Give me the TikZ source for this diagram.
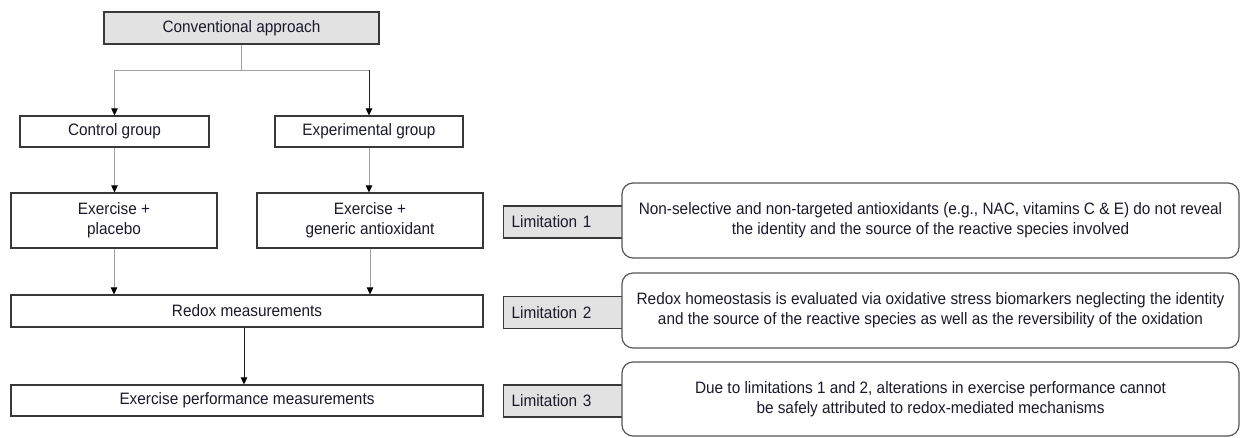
\documentclass[tikz,border=0pt]{standalone}
\usepackage{fontspec}
\setmainfont{Liberation Sans}[FakeStretch=0.93]
\usetikzlibrary{arrows.meta,calc}
\definecolor{boxline}{HTML}{383838}
\definecolor{graybox}{HTML}{E2E2E2}
\definecolor{lightln}{HTML}{A0A0A0}
\definecolor{darkln}{HTML}{202020}
\definecolor{txt}{HTML}{1A1A2A}
\begin{document}
\begin{tikzpicture}[x=1pt,y=-1pt,
  every node/.style={font=\fontsize{16.5}{20}\selectfont, text=txt},
  plainbox/.style={draw=boxline, line width=1.2pt, fill=white, align=center, inner sep=0pt},
  graybx/.style={plainbox, fill=graybox},
  limbox/.style={draw=boxline, line width=1.2pt, fill=graybox, anchor=west, minimum width=119pt, minimum height=32pt, inner sep=0pt, text width=103pt, align=left},
  roundbx/.style={draw=boxline!85, line width=1.2pt, fill=white, rounded corners=11pt, minimum width=617pt, minimum height=75pt, align=center, inner sep=0pt},
  lightline/.style={draw=lightln, line width=1pt},
  lightarrow/.style={lightline, -{Triangle[length=7pt,width=6.5pt,color=black]}},
  darkarrow/.style={draw=darkln, line width=1pt, -{Triangle[length=7pt,width=6.5pt,color=black]}}
]
\useasboundingbox (0,0) rectangle (1240,437);

% left column
\node[graybx, minimum width=275pt, minimum height=32pt] (conv) at (241.5,28) {Conventional approach};
\node[plainbox, minimum width=189pt, minimum height=31pt] (ctrl) at (114.5,131.5) {Control group};
\node[plainbox, minimum width=188pt, minimum height=31pt] (expg) at (369,131.5) {Experimental group};
\node[plainbox, minimum width=206pt, minimum height=55pt] (plac) at (114,220.5) {Exercise +\\placebo};
\node[plainbox, minimum width=226pt, minimum height=55pt] (gen) at (370,220.5) {Exercise +\\generic antioxidant};
\node[plainbox, minimum width=472pt, minimum height=32pt] (redox) at (247,311) {Redox measurements};
\node[plainbox, minimum width=472pt, minimum height=31pt] (perf) at (247,400.5) {Exercise performance measurements};

\coordinate (split) at (241.5,70);
\coordinate (rcorner) at (expg.north |- split);
\draw[lightline] (conv.south) -- (split);
\draw[lightarrow] (split) -| (ctrl.north);
\draw[lightline] (split) -- (rcorner);
\draw[darkarrow] (rcorner) -- (expg.north);
\draw[lightarrow] (ctrl.south) -- (ctrl.south |- plac.north);
\draw[lightarrow] (expg.south) -- (expg.south |- gen.north);
\draw[lightarrow] (plac.south) -- (plac.south |- redox.north);
\draw[lightarrow] (gen.south) -- (gen.south |- redox.north);
\draw[darkarrow] ($(redox.south)+(-3,0)$) -- ($(perf.north)+(-3,0)$);

% limitations
\node[limbox] (lim1) at (503,222) {Limitation 1};
\node[limbox] (lim2) at (503,312.5) {Limitation 2};
\node[limbox] (lim3) at (503,401) {Limitation 3};

\node[roundbx] (r1) at (930.5,220.5) {Non-selective and non-targeted antioxidants (e.g., NAC, vitamins C \& E) do not reveal\\the identity and the source of the reactive species involved};
\node[roundbx] (r2) at (930.5,310.5) {Redox homeostasis is evaluated via oxidative stress biomarkers neglecting the identity\\and the source of the reactive species as well as the reversibility of the oxidation};
\node[roundbx, minimum height=74pt] (r3) at (930.5,399) {Due to limitations 1 and 2, alterations in exercise performance cannot\\be safely attributed to redox-mediated mechanisms};
\end{tikzpicture}
\end{document}
